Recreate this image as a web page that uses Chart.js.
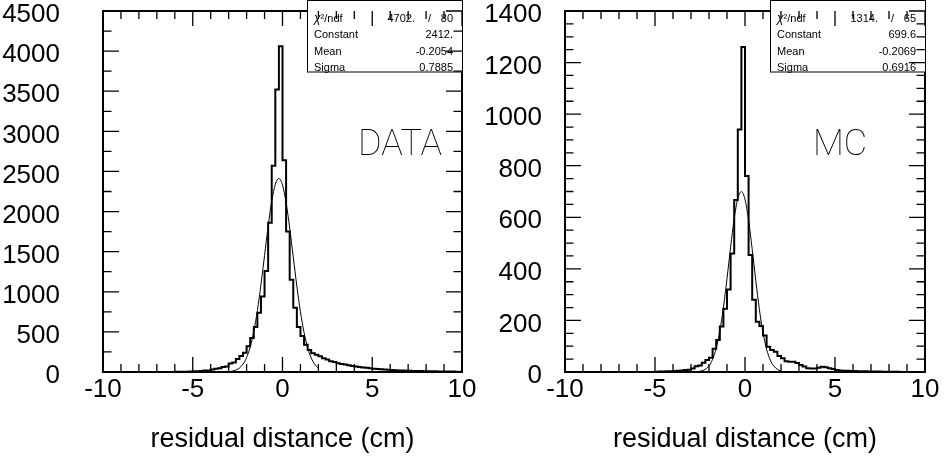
<!DOCTYPE html>
<html><head><meta charset="utf-8">
<script src="https://cdn.jsdelivr.net/npm/chart.js@4"></script>
<style>
html,body{margin:0;padding:0;background:#fff;}
#wrap{position:relative;width:945px;height:459px;overflow:hidden;background:#fff;}
canvas{position:absolute;left:0;top:0;}
</style></head><body>
<div id="wrap"><canvas id="cData" width="945" height="459"></canvas><canvas id="cMC" width="945" height="459"></canvas></div>
<script>
// ---- data ----
const binCenters = [
 -9.9,-9.7,-9.5,-9.3,-9.1,-8.9,-8.7,-8.5,-8.3,-8.1,
 -7.9,-7.7,-7.5,-7.3,-7.1,-6.9,-6.7,-6.5,-6.3,-6.1,
 -5.9,-5.7,-5.5,-5.3,-5.1,-4.9,-4.7,-4.5,-4.3,-4.1,
 -3.9,-3.7,-3.5,-3.3,-3.1,-2.9,-2.7,-2.5,-2.3,-2.1,
 -1.9,-1.7,-1.5,-1.3,-1.1,-0.9,-0.7,-0.5,-0.3,-0.1,
 0.1,0.3,0.5,0.7,0.9,1.1,1.3,1.5,1.7,1.9,
 2.1,2.3,2.5,2.7,2.9,3.1,3.3,3.5,3.7,3.9,
 4.1,4.3,4.5,4.7,4.9,5.1,5.3,5.5,5.7,5.9,
 6.1,6.3,6.5,6.7,6.9,7.1,7.3,7.5,7.7,7.9,
 8.1,8.3,8.5,8.7,8.9,9.1,9.3,9.5,9.7,9.9
];
const dataCounts = [
 0,0,0,0,0,0,0,0,0,0,
 0,0,0,0,0,0,0,1,1,1,
 2,2,3,4,5,8,10,12,18,20,
 32,40,46,62,68,105,118,162,200,240,
 320,425,560,740,940,1260,1860,2570,3520,4060,
 2640,1750,1150,800,560,450,340,275,235,215,
 195,170,155,135,125,110,100,95,85,75,
 70,62,55,52,48,42,38,35,32,28,
 25,22,20,18,16,15,14,12,11,10,
 9,8,8,7,6,6,5,5,4,4
];
const mcCounts = [
 0,0,0,0,0,0,0,0,0,0,
 0,0,0,0,0,0,0,0,0,0,
 0,0,0,0,0,1,2,2,3,3,
 4,5,6,8,9,14,22,25,36,47,
 55,90,124,176,245,320,460,667,940,1260,
 760,454,280,195,178,142,98,85,79,62,
 53,42,40,40,35,27,21,15,14,14,
 16,20,18,15,12,8,6,5,5,4,
 4,3,3,3,2,2,2,2,1,1,
 1,1,1,0,0,0,0,0,0,0
];
// Gaussian fit curves (values along the drawn curve)
const fitX = [-3.0,-2.8,-2.6,-2.4,-2.2,-2.0,-1.8,-1.6,-1.4,-1.2,-1.0,-0.8,-0.6,-0.4,-0.2,0.0,0.2,0.4,0.6,0.8,1.0,1.2,1.4,1.6,1.8,2.0];
const dataFitY = [4.5,10.7,24.0,50.2,98.4,181,312,505,765,1089,1452,1815,2128,2340,2412,2332,2113,1796,1432,1070,750,493,304,175,95,48.3];
const mcFitY = [0.2,0.62,1.76,4.58,11.0,24.3,49.3,92.0,158,250,362,484,595,673,699.6,669,588,476,354,242,153,88.4,47.1,23.1,10.4,4.3];
// axes
const xTickValues = [-10,-5,0,5,10];
const xTickLabels = ['-10','-5','0','5','10'];
const dataYTicks = [0,500,1000,1500,2000,2500,3000,3500,4000,4500];
const mcYTicks = [0,200,400,600,800,1000,1200,1400];
const xTitle = 'residual distance (cm)';
// stat boxes
const dataStats = {chi2:'4702.', ndf:'80', rows:[['Constant','2412.'],['Mean','-0.2054'],['Sigma','0.7885']]};
const mcStats = {chi2:'1314.', ndf:'65', rows:[['Constant','699.6'],['Mean','-0.2069'],['Sigma','0.6916']]};

const FONT = '"Liberation Sans", Arial, Helvetica, sans-serif';
Chart.defaults.font.family = FONT;
Chart.defaults.color = '#000';

function histPoints(centers, counts) {
  const w = centers[1] - centers[0];
  const pts = [];
  for (let i = 0; i < centers.length; i++) {
    pts.push({x: centers[i] - w / 2, y: counts[i]});
    pts.push({x: centers[i] + w / 2, y: counts[i]});
  }
  return pts;
}

function decoPlugin(cfg) {
  return {
    id: 'deco',
    afterDraw(chart) {
      const {ctx, chartArea: {left, right, top, bottom}, scales: {x, y}} = chart;
      ctx.save();
      // frame
      ctx.strokeStyle = '#000';
      ctx.lineWidth = 2;
      ctx.strokeRect(left, top, right - left, bottom - top);
      // stat box (white fill covers the frame)
      const bw = 155, bx = right - bw, by = 0.5, bh = 71.5;
      ctx.fillStyle = '#fff';
      ctx.fillRect(bx, by, bw, bh);
      ctx.lineWidth = 1;
      ctx.strokeRect(bx + 0.5, by, bw, bh);
      // ticks
      ctx.lineWidth = 1.3;
      ctx.beginPath();
      const xMin = x.min, xMax = x.max;
      const nx = Math.round((xMax - xMin) / cfg.xMinor);
      for (let k = 0; k <= nx; k++) {
        const v = xMin + k * cfg.xMinor;
        const px = x.getPixelForValue(v);
        const len = (Math.abs(v % cfg.xMajor) < 1e-9) ? 15 : 8;
        ctx.moveTo(px, bottom); ctx.lineTo(px, bottom - len);
        ctx.moveTo(px, top); ctx.lineTo(px, top + len);
      }
      const ny = Math.round((y.max - y.min) / cfg.yMinor);
      for (let k = 0; k <= ny; k++) {
        const v = y.min + k * cfg.yMinor;
        const py = y.getPixelForValue(v);
        const len = (Math.abs(v % cfg.yMajor) < 1e-9) ? 16 : 8.5;
        ctx.moveTo(left, py); ctx.lineTo(left + len, py);
        ctx.moveTo(right, py); ctx.lineTo(right - len, py);
      }
      ctx.stroke();
      // stat text
      ctx.fillStyle = '#000';
      ctx.textBaseline = 'middle';
      const rowsY = [18.5, 35, 51.5, 68];
      ctx.textAlign = 'left';
      ctx.font = 'italic 12px ' + FONT;
      ctx.fillText('\u03C7', bx + 7, rowsY[0]);
      const cw = ctx.measureText('\u03C7').width;
      ctx.font = '11px ' + FONT;
      ctx.fillText('\u00B2/ndf', bx + 7 + cw, rowsY[0]);
      ctx.textAlign = 'right';
      ctx.fillText(cfg.stats.chi2, right - 47, rowsY[0]);
      ctx.textAlign = 'center';
      ctx.fillText('/', right - 32.5, rowsY[0]);
      ctx.textAlign = 'right';
      ctx.fillText(cfg.stats.ndf, right - 9, rowsY[0]);
      cfg.stats.rows.forEach((r, i) => {
        ctx.textAlign = 'left';
        ctx.fillText(r[0], bx + 7, rowsY[i + 1]);
        ctx.textAlign = 'right';
        ctx.fillText(r[1], right - 9, rowsY[i + 1]);
      });
      // big label
      ctx.font = '100 36px Roboto, ' + FONT;
      ctx.textAlign = 'center';
      ctx.fillText(cfg.tag, cfg.tagX, 146);
      ctx.restore();
    }
  };
}

function makeChart(id, cfg) {
  return new Chart(document.getElementById(id), {
    type: 'line',
    data: {
      datasets: [
        {data: histPoints(binCenters, cfg.counts), borderColor: '#000', borderWidth: 2, pointRadius: 0, fill: false, tension: 0, borderJoinStyle: 'miter'},
        {data: fitX.map((v, i) => ({x: v, y: cfg.fit[i]})), borderColor: '#000', borderWidth: 1, pointRadius: 0, fill: false, cubicInterpolationMode: 'monotone'}
      ]
    },
    options: {
      responsive: false, animation: false, devicePixelRatio: 1,
      layout: {padding: {left: cfg.padLeft, right: cfg.padRight, top: 11, bottom: 0}},
      plugins: {legend: {display: false}, tooltip: {enabled: false}, title: {display: false}},
      scales: {
        x: {
          type: 'linear', min: -10, max: 10, position: 'bottom',
          grid: {display: false, drawTicks: false}, border: {display: false},
          afterBuildTicks: s => { s.ticks = xTickValues.map(v => ({value: v})); },
          ticks: {autoSkip: false, maxRotation: 0, minRotation: 0, padding: 2, color: '#000', font: {size: 26},
                  callback: (v, i) => xTickLabels[i]},
          title: {display: true, text: xTitle, color: '#000', font: {size: 27}, padding: {top: 0, bottom: 3}},
          afterFit: s => { s.height = 87; s.paddingLeft = 0; s.paddingRight = 0; }
        },
        y: {
          type: 'linear', min: 0, max: cfg.yMax, position: 'left',
          grid: {display: false, drawTicks: false}, border: {display: false},
          afterBuildTicks: s => { s.ticks = cfg.yTicks.map(v => ({value: v})); },
          ticks: {autoSkip: false, padding: cfg.yLabelPad, labelOffset: 4, color: '#000', font: {size: 26},
                  callback: (v, i) => String(cfg.yTicks[i])},
          afterFit: s => { s.width = cfg.yAxisWidth; s.paddingTop = 0; s.paddingBottom = 0; }
        }
      }
    },
    plugins: [decoPlugin(cfg)]
  });
}

makeChart('cData', {
  counts: dataCounts, fit: dataFitY, yMax: 4500, yTicks: dataYTicks,
  padLeft: 0, padRight: 945 - 462, yAxisWidth: 103, yLabelPad: 43,
  xMinor: 1, xMajor: 5, yMinor: 250, yMajor: 500,
  stats: dataStats, tag: 'DATA', tagX: 400
});
makeChart('cMC', {
  counts: mcCounts, fit: mcFitY, yMax: 1400, yTicks: mcYTicks,
  padLeft: 465, padRight: 945 - 925, yAxisWidth: 100, yLabelPad: 23,
  xMinor: 1, xMajor: 5, yMinor: 50, yMajor: 200,
  stats: mcStats, tag: 'MC', tagX: 840
});
</script>
</body></html>
